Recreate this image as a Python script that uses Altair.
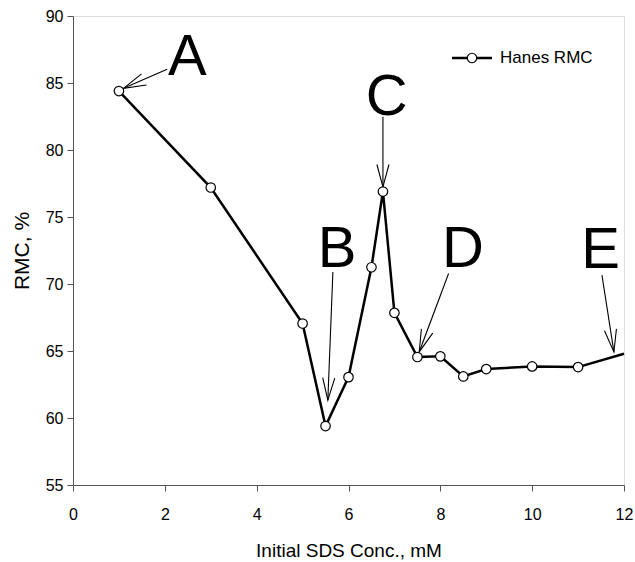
import altair as alt
import pandas as pd
import numpy as np

# ---- data ----
x_conc = [1, 3, 5, 5.5, 6, 6.5, 6.75, 7, 7.5, 8, 8.5, 9, 10, 11, 12]
rmc = [84.4, 77.2, 67.05, 59.4, 63.05, 71.25, 76.9, 67.85, 64.55, 64.6, 63.1, 63.65, 63.85, 63.8, 64.8]
has_marker = [True] * 14 + [False]

labels = ["A", "B", "C", "D", "E"]
label_x = [2.49, 5.75, 6.83, 8.49, 11.49]
label_y = [85.59, 71.28, 82.61, 71.28, 71.18]
arrow_x0 = [2.05, 5.66, 6.75, 8.18, 11.52]
arrow_y0 = [86.02, 70.9, 82.48, 70.78, 70.66]
arrow_x1 = [1.10, 5.55, 6.75, 7.54, 11.78]
arrow_y1 = [84.6, 61.33, 77.25, 64.93, 64.93]

x_ticks = [0, 2, 4, 6, 8, 10, 12]
y_ticks = [55, 60, 65, 70, 75, 80, 85, 90]
series_name = "Hanes RMC"

W, H = 551, 469
XD, YD = [0, 12], [55, 90]
FONT = "Liberation Sans, Arial, Helvetica, sans-serif"

df = pd.DataFrame({"x": x_conc, "y": rmc, "m": has_marker})
pts = df[df["m"]]

# arrow head angles from the direction of each arrow, in screen space
dx = (np.array(arrow_x1) - np.array(arrow_x0)) * W / (XD[1] - XD[0])
dy = -(np.array(arrow_y1) - np.array(arrow_y0)) * H / (YD[1] - YD[0])
ang = (np.degrees(np.arctan2(dx, -dy)) + 360) % 360
ann = pd.DataFrame({"lab": labels, "lx": label_x, "ly": label_y,
                    "x0": arrow_x0, "y0": arrow_y0, "x1": arrow_x1, "y1": arrow_y1,
                    "ang": ang})

xs = alt.Scale(domain=XD, nice=False, zero=False)
ys = alt.Scale(domain=YD, nice=False, zero=False)

xax = alt.Axis(values=x_ticks, title="Initial SDS Conc., mM", grid=False, tickSize=6,
               labelFontSize=16, titleFontSize=19, labelPadding=15, titlePadding=19,
               labelFont=FONT, titleFont=FONT, labelColor="black", titleColor="black",
               titleFontWeight="normal", domainColor="#555", tickColor="#555", labelFlush=False)
yax = alt.Axis(values=y_ticks, title="RMC, %", grid=False, tickSize=6,
               labelFontSize=16, titleFontSize=21, labelPadding=4, titlePadding=13,
               labelFont=FONT, titleFont=FONT, labelColor="black", titleColor="black",
               titleFontWeight="normal", domainColor="#555", tickColor="#555")

line = alt.Chart(df).mark_line(color="black", strokeWidth=2.5).encode(
    x=alt.X("x:Q", scale=xs, axis=xax),
    y=alt.Y("y:Q", scale=ys, axis=yax),
)
points = alt.Chart(pts).mark_point(shape="circle", filled=True, fill="white", stroke="black",
                                   strokeWidth=1.2, size=90, opacity=1).encode(
    x="x:Q", y="y:Q")

arrows = alt.Chart(ann).mark_rule(color="black", strokeWidth=1.1).encode(
    x="x0:Q", y="y0:Q", x2="x1:Q", y2="y1:Q")
heads = alt.Chart(ann).mark_point(shape="M-0.27,1L0,0L0.27,1", filled=False, stroke="black",
                                  strokeWidth=1.1, size=2000, opacity=1).encode(
    x="x1:Q", y="y1:Q", angle=alt.Angle("ang:Q", scale=None))
letters = alt.Chart(ann).mark_text(fontSize=58, font=FONT, baseline="alphabetic",
                                   align="center", color="black").encode(
    x="lx:Q", y="ly:Q", text="lab:N")

leg = pd.DataFrame({"name": [series_name]})
leg_line = alt.Chart(leg).mark_rule(color="black", strokeWidth=2.5).encode(
    x=alt.value(379), x2=alt.value(419), y=alt.value(42))
leg_pt = alt.Chart(leg).mark_point(shape="circle", filled=True, fill="white", stroke="black",
                                   strokeWidth=1.2, size=90, opacity=1).encode(
    x=alt.value(399), y=alt.value(42))
leg_txt = alt.Chart(leg).mark_text(fontSize=17, font=FONT, align="left", baseline="middle",
                                   color="black").encode(
    x=alt.value(427), y=alt.value(42), text="name:N")

chart = alt.layer(line, arrows, heads, points, letters, leg_line, leg_pt, leg_txt).properties(
    width=W, height=H,
    autosize=alt.AutoSizeParams(type="none"),
    padding={"left": 73, "top": 16, "right": 11, "bottom": 77},
).configure_view(stroke="black", strokeWidth=1).configure(background="white")

chart.save("out.html", embed_options={"renderer": "svg", "actions": False})
